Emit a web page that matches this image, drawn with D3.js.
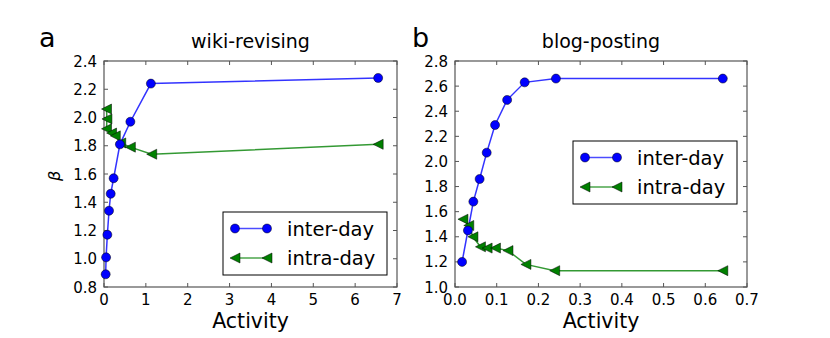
<!DOCTYPE html>
<html>
<head>
<meta charset="utf-8">
<script src="https://cdn.jsdelivr.net/npm/d3@7"></script>
<style>
  body { margin: 0; background: #fff; }
  text { font-family: "DejaVu Sans", sans-serif; fill: #000; }
</style>
</head>
<body>
<svg id="chart" width="830" height="338"></svg>
<script>
// wiki-revising
var wikiInter = [[0.04, 0.89], [0.05, 1.01], [0.08, 1.17], [0.12, 1.34], [0.16, 1.46],
  [0.23, 1.57], [0.38, 1.81], [0.63, 1.97], [1.12, 2.24], [6.55, 2.28]];
var wikiIntra = [[0.06, 2.06], [0.07, 1.99], [0.06, 1.92], [0.18, 1.89], [0.27, 1.87],
  [0.40, 1.82], [0.63, 1.79], [1.14, 1.74], [6.55, 1.81]];

// blog-posting
var blogInter = [[0.017, 1.20], [0.031, 1.45], [0.044, 1.68], [0.059, 1.86], [0.076, 2.07],
  [0.096, 2.29], [0.125, 2.49], [0.167, 2.63], [0.242, 2.66], [0.642, 2.66]];
var blogIntra = [[0.019, 1.54], [0.033, 1.49], [0.043, 1.40], [0.061, 1.32], [0.077, 1.31],
  [0.097, 1.31], [0.127, 1.29], [0.170, 1.18], [0.239, 1.13], [0.642, 1.13]];

var seriesNames = ['inter-day', 'intra-day'];
var wikiXTicks = [0, 1, 2, 3, 4, 5, 6, 7];
var wikiYTicks = [0.8, 1.0, 1.2, 1.4, 1.6, 1.8, 2.0, 2.2, 2.4];
var blogXTicks = [0, 0.1, 0.2, 0.3, 0.4, 0.5, 0.6, 0.7];
var blogYTicks = [1.0, 1.2, 1.4, 1.6, 1.8, 2.0, 2.2, 2.4, 2.6, 2.8];

var svg = d3.select('#chart');
var triPath = 'M-5,0L5,-5L5,5Z';

function panel(opt) {
  var x = d3.scaleLinear().domain(opt.xDomain).range([opt.left, opt.right]);
  var y = d3.scaleLinear().domain(opt.yDomain).range([287, 61]);
  var g = svg.append('g');

  // 枠
  g.append('rect')
    .attr('x', opt.left).attr('y', 61)
    .attr('width', opt.right - opt.left).attr('height', 226)
    .attr('fill', 'none').attr('stroke', '#555').attr('stroke-width', 1.2);

  // 目盛り（内向き、四辺）
  var ticks = g.append('g').attr('stroke', '#555');
  opt.xTicks.forEach(function(t) {
    ticks.append('line').attr('x1', x(t)).attr('x2', x(t)).attr('y1', 287).attr('y2', 283);
    ticks.append('line').attr('x1', x(t)).attr('x2', x(t)).attr('y1', 61).attr('y2', 65);
  });
  opt.yTicks.forEach(function(t) {
    ticks.append('line').attr('x1', opt.left).attr('x2', opt.left + 4).attr('y1', y(t)).attr('y2', y(t));
    ticks.append('line').attr('x1', opt.right).attr('x2', opt.right - 4).attr('y1', y(t)).attr('y2', y(t));
  });

  g.selectAll('.xl').data(opt.xTicks).enter().append('text')
    .attr('x', function(d) { return x(d); })
    .attr('y', 305)
    .attr('text-anchor', 'middle')
    .style('font-size', '15px')
    .text(opt.xFormat);
  g.selectAll('.yl').data(opt.yTicks).enter().append('text')
    .attr('x', opt.left - 7)
    .attr('y', function(d) { return y(d) + 5.5; })
    .attr('text-anchor', 'end')
    .style('font-size', '15px')
    .text(d3.format('.1f'));

  g.append('text').attr('x', (opt.left + opt.right) / 2).attr('y', 328)
    .attr('text-anchor', 'middle').style('font-size', '20.5px').text('Activity');
  g.append('text').attr('x', (opt.left + opt.right) / 2).attr('y', 48)
    .attr('text-anchor', 'middle').style('font-size', '19px').text(opt.title);
  g.append('text').attr('x', opt.letterX).attr('y', 47)
    .style('font-size', '27px').text(opt.letter);

  var line = d3.line().x(function(d) { return x(d[0]); }).y(function(d) { return y(d[1]); });

  // 線
  g.append('path').datum(opt.inter).attr('d', line)
    .attr('fill', 'none').attr('stroke', '#0000ff').attr('stroke-width', 1.5).attr('stroke-opacity', 0.8);
  g.append('path').datum(opt.intra).attr('d', line)
    .attr('fill', 'none').attr('stroke', '#008000').attr('stroke-width', 1.5).attr('stroke-opacity', 0.8);

  // マーカー
  g.selectAll('.tri').data(opt.intra).enter().append('path')
    .attr('d', triPath)
    .attr('transform', function(d) { return 'translate(' + x(d[0]) + ',' + y(d[1]) + ')'; })
    .attr('fill', '#008000').attr('stroke', '#000').attr('stroke-width', 0.5);
  g.selectAll('.dot').data(opt.inter).enter().append('circle')
    .attr('cx', function(d) { return x(d[0]); })
    .attr('cy', function(d) { return y(d[1]); })
    .attr('r', 4.5)
    .attr('fill', '#0000ff').attr('stroke', '#000').attr('stroke-width', 0.5);

  // 凡例
  var L = opt.legend;
  g.append('rect').attr('x', L.x).attr('y', L.y).attr('width', 164).attr('height', 63)
    .attr('fill', '#fff').attr('stroke', '#000').attr('stroke-width', 1);
  seriesNames.forEach(function(name, i) {
    var cy = L.y + 16.5 + i * 29.5;
    var x1 = L.x + 12, x2 = L.x + 44;
    g.append('line').attr('x1', x1).attr('x2', x2).attr('y1', cy).attr('y2', cy)
      .attr('stroke', i ? '#008000' : '#0000ff').attr('stroke-width', 1.5).attr('stroke-opacity', 0.7);
    [x1, x2].forEach(function(px) {
      if (i) {
        g.append('path').attr('d', triPath).attr('transform', 'translate(' + px + ',' + cy + ')')
          .attr('fill', '#008000').attr('stroke', '#000').attr('stroke-width', 0.5);
      } else {
        g.append('circle').attr('cx', px).attr('cy', cy).attr('r', 4.5)
          .attr('fill', '#0000ff').attr('stroke', '#000').attr('stroke-width', 0.5);
      }
    });
    g.append('text').attr('x', L.x + 64).attr('y', cy + 7)
      .style('font-size', '19.5px').text(name);
  });
}

panel({
  left: 104, right: 397, xDomain: [0, 7], yDomain: [0.8, 2.4],
  xTicks: wikiXTicks, yTicks: wikiYTicks, xFormat: d3.format('d'),
  inter: wikiInter, intra: wikiIntra, title: 'wiki-revising',
  letter: 'a', letterX: 39, legend: { x: 223, y: 212 }
});
panel({
  left: 455, right: 747, xDomain: [0, 0.7], yDomain: [1.0, 2.8],
  xTicks: blogXTicks, yTicks: blogYTicks, xFormat: d3.format('.1f'),
  inter: blogInter, intra: blogIntra, title: 'blog-posting',
  letter: 'b', letterX: 412, legend: { x: 573, y: 141 }
});

// β ラベル
svg.append('text')
  .attr('transform', 'translate(60,176) rotate(-90)')
  .attr('text-anchor', 'middle')
  .style('font-size', '16px').style('font-style', 'italic')
  .text('β');
</script>
</body>
</html>
